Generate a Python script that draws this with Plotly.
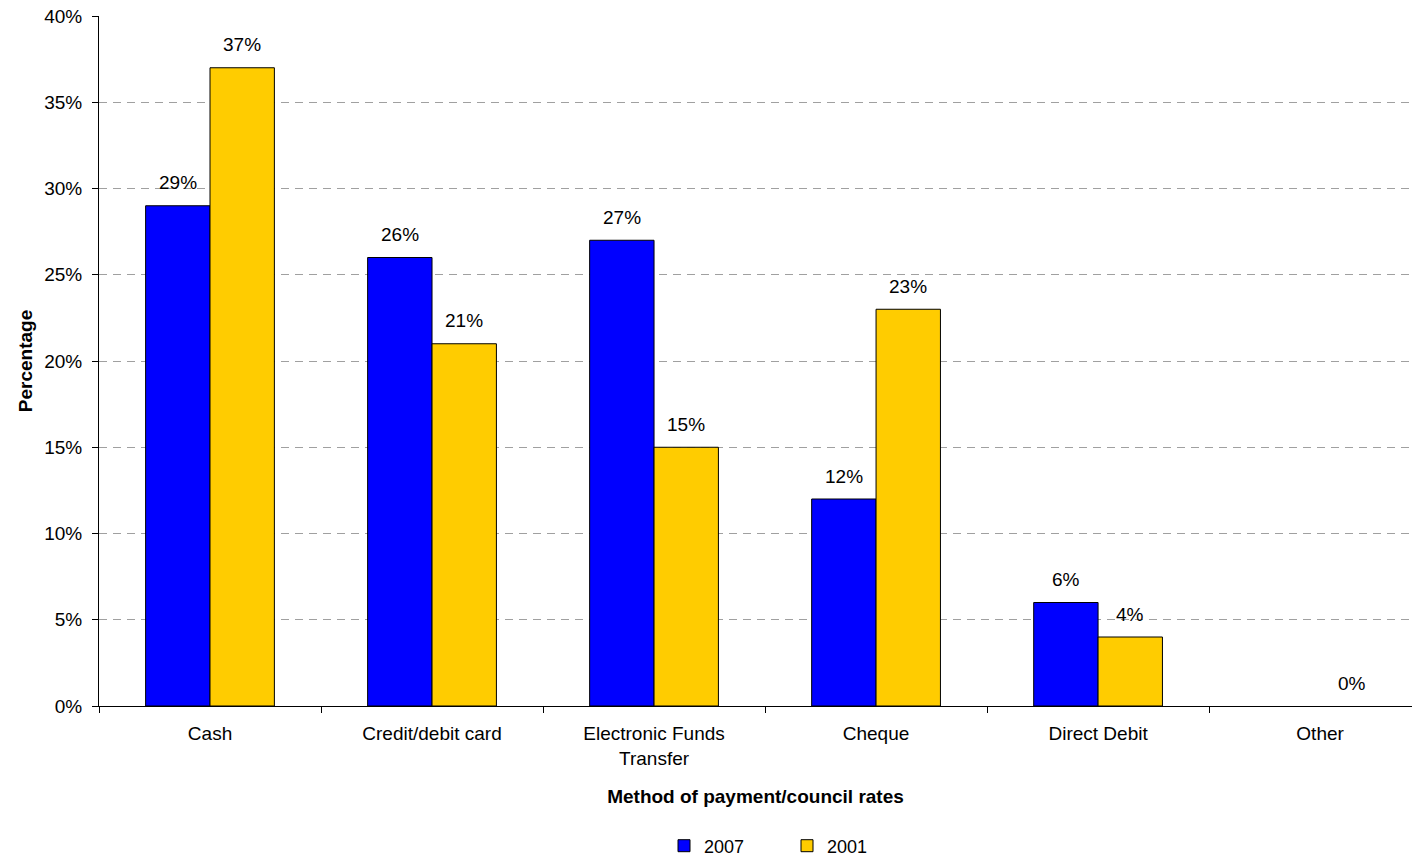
import plotly.graph_objects as go

categories = ["Cash", "Credit/debit card", "Electronic Funds<br>Transfer", "Cheque", "Direct Debit", "Other"]
values_2007 = [29, 26, 27, 12, 6, None]
values_2001 = [37, 21, 15, 23, 4, 0]
y_ticks = [0, 5, 10, 15, 20, 25, 30, 35, 40]
y_tick_labels = [f"{v}%" for v in y_ticks]

font_family = "Liberation Sans, Arial, sans-serif"
FS = 19

# plot geometry used to place the value labels over each bar of a group
plot_left, plot_right = 99, 1412
plot_top, plot_bottom = 16, 706
x_range = [-0.5, 5.414]
bargap = 0.42
px_per_cat = (plot_right - plot_left) / (x_range[1] - x_range[0])
bar_px = px_per_cat * (1 - bargap) / 2
plot_h = plot_bottom - plot_top


def edge_widths(vals):
    return [0 if (v is None or v == 0) else 1 for v in vals]


fig = go.Figure()
fig.add_trace(go.Bar(
    name="2007", x=categories, y=values_2007,
    marker=dict(color="#0000FF", line=dict(color="#000000", width=edge_widths(values_2007))),
))
fig.add_trace(go.Bar(
    name="2001", x=categories, y=values_2001,
    marker=dict(color="#FFCC00", line=dict(color="#000000", width=edge_widths(values_2001))),
))

annotations = []
for vals, shift in ((values_2007, -bar_px / 2), (values_2001, bar_px / 2)):
    for cat, v in zip(categories, vals):
        if v is None:
            continue
        annotations.append(dict(
            x=cat, y=v, xref="x", yref="y", text=f"{v}%", showarrow=False,
            xshift=shift, yshift=23, yanchor="middle", xanchor="center",
            font=dict(size=FS, color="#000000"),
        ))

fig.update_layout(
    width=1412, height=857,
    margin=dict(l=plot_left, r=0, t=plot_top, b=857 - plot_bottom),
    paper_bgcolor="#FFFFFF", plot_bgcolor="#FFFFFF",
    font=dict(family=font_family, size=FS, color="#000000"),
    barmode="group", bargap=bargap, bargroupgap=0,
    showlegend=True,
    legend=dict(orientation="h", x=(664 - plot_left) / (plot_right - plot_left), xanchor="left",
                yref="container", y=(857 - 846) / 857, yanchor="middle",
                font=dict(size=18), itemwidth=30, traceorder="normal",
                entrywidth=78, entrywidthmode="pixels"),
    annotations=annotations,
    xaxis=dict(
        type="category", range=x_range, automargin=False,
        showline=True, linecolor="#000000", linewidth=1,
        ticks="outside", tickson="boundaries", ticklen=6, tickcolor="#000000",
        ticklabelstandoff=10,
        showgrid=False,
        title=dict(text="<b>Method of payment/council rates</b>", font=dict(size=FS), standoff=22),
    ),
    yaxis=dict(
        range=[0, 40], tickvals=y_ticks, ticktext=y_tick_labels, automargin=False,
        showline=True, linecolor="#000000", linewidth=1,
        ticks="outside", ticklen=6, tickcolor="#000000",
        ticklabelstandoff=6,
        showgrid=True, gridcolor="#A0A0A0", griddash="8px,6px", gridwidth=1,
        zeroline=False,
        title=dict(text="<b>Percentage</b>", font=dict(size=FS), standoff=6),
    ),
)

fig.write_html("out.html")
